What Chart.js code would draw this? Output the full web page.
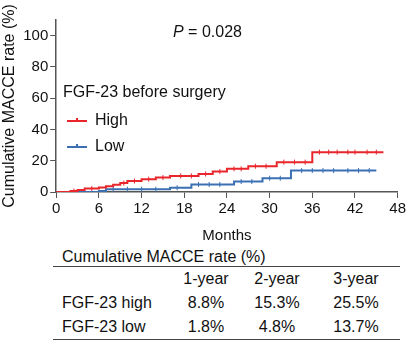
<!DOCTYPE html>
<html lang="en">
<head>
<meta charset="UTF-8">
<title>Cumulative MACCE rate</title>
<script src="https://cdn.jsdelivr.net/npm/chart.js"></script>
<style>
    body { margin: 0; background: #fff; font-family: "Liberation Sans", Arial, sans-serif; color: #111; }
    #wrap { position: relative; width: 408px; height: 340px; overflow: hidden; }
    #grafico { position: absolute; left: 0; top: 0; width: 408px; height: 245px; }
    #titulo-tabela { position: absolute; left: 62px; top: 247px; font-size: 16px; line-height: 20px; }
    #tabela { position: absolute; left: 53px; top: 266px; border-collapse: collapse; font-size: 16px; }
    #tabela { border-top: 1.5px solid #444; border-bottom: 1.5px solid #444; }
    #tabela td { height: 24px; padding: 0; line-height: 24px; text-align: center; }
    #tabela td.nome { text-align: left; padding-left: 9px; }
</style>
</head>
<body>
<div id="wrap">
    <div id="grafico"><canvas id="km"></canvas></div>
    <div id="titulo-tabela">Cumulative MACCE rate (%)</div>
    <table id="tabela">
        <colgroup>
            <col style="width:117px"><col style="width:72px"><col style="width:70px"><col style="width:88px">
        </colgroup>
        <tbody></tbody>
    </table>
</div>

<script>
// curvas de Kaplan-Meier (mes do evento, taxa acumulada apos o evento)
const highMonths = [0, 2, 3, 4, 6, 7, 8, 9, 10, 12, 14, 16, 20, 22, 24, 27, 31, 36, 46];
const highRates  = [0, 0.6, 1.2, 2.2, 2.9, 3.6, 4.6, 5.7, 7.0, 8.2, 9.2, 10.3, 11.5, 13.1, 14.8, 16.5, 19.1, 25.5, 25.5];
const lowMonths  = [0, 6, 7, 16, 19, 25, 29, 33, 45];
const lowRates   = [0, 0.6, 1.8, 2.7, 4.8, 6.7, 8.8, 13.7, 13.7];

// censuras (meses)
const highCensor = [2.5, 5, 9.5, 11, 13, 15, 17.5, 19, 21, 23, 25, 26, 28, 29.5, 32, 33.5, 35, 37, 38.3, 39.5, 41, 42, 43.7, 45];
const lowCensor  = [3, 8, 10, 12, 14, 17, 20, 21.5, 23, 26, 27.5, 30, 31.5, 34.5, 36, 37.5, 39, 41, 42.5, 44];

// tabela
const tableHeader = ['', '1-year', '2-year', '3-year'];
const tableRows = [
    ['FGF-23 high', '8.8%', '15.3%', '25.5%'],
    ['FGF-23 low', '1.8%', '4.8%', '13.7%']
];

const legendTitle = 'FGF-23 before surgery';
const legendLabels = ['High', 'Low'];
const pText = '= 0.028';

const RED = '#e8262b';
const BLUE = '#3b70b3';
const AXIS = '#555';
const FONT = '"Liberation Sans", Arial, sans-serif';

// preenche a tabela
let html = '<tr>' + tableHeader.map((h, i) => `<td${i === 0 ? ' class="nome"' : ''}>${h}</td>`).join('') + '</tr>';
tableRows.forEach(r => {
    html += '<tr>' + r.map((v, i) => `<td${i === 0 ? ' class="nome"' : ''}>${v}</td>`).join('') + '</tr>';
});
document.querySelector('#tabela tbody').innerHTML = html;

function stepValue(months, rates, t) {
    let v = 0;
    for (let i = 0; i < months.length; i++) {
        if (months[i] <= t) v = rates[i];
    }
    return v;
}

const highLine = highMonths.map((m, i) => ({ x: m, y: highRates[i] }));
const lowLine = lowMonths.map((m, i) => ({ x: m, y: lowRates[i] }));
const highTicks = highCensor.map(m => ({ x: m, y: stepValue(highMonths, highRates, m) }));
const lowTicks = lowCensor.map(m => ({ x: m, y: stepValue(lowMonths, lowRates, m) }));

// legenda e valor de P desenhados no grafico
const anotacoes = {
    id: 'anotacoes',
    afterDraw(chart) {
        const ctx = chart.ctx;
        ctx.save();
        ctx.fillStyle = '#111';
        ctx.textBaseline = 'middle';
        ctx.font = 'italic 16px ' + FONT;
        ctx.fillText('P', 173, 33);
        const pw = ctx.measureText('P ').width;
        ctx.font = '16px ' + FONT;
        ctx.fillText(pText, 173 + pw, 33);

        ctx.fillText(legendTitle, 63, 93);
        const cores = [RED, BLUE];
        legendLabels.forEach((lab, i) => {
            const y = 121 + i * 26;
            ctx.strokeStyle = cores[i];
            ctx.lineWidth = 2;
            ctx.beginPath();
            ctx.moveTo(67, y);
            ctx.lineTo(87, y);
            ctx.moveTo(77, y);
            ctx.lineTo(77, y - 3);
            ctx.stroke();
            ctx.fillStyle = '#111';
            ctx.fillText(lab, 95, y);
        });
        ctx.restore();
    }
};

const ctx = document.getElementById('km').getContext('2d');
new Chart(ctx, {
    type: 'line',
    data: {
        datasets: [
            { data: highLine, borderColor: RED, borderWidth: 2, stepped: 'before', pointRadius: 0, fill: false },
            { data: lowLine, borderColor: BLUE, borderWidth: 2, stepped: 'before', pointRadius: 0, fill: false },
            { data: highTicks, showLine: false, pointStyle: 'line', rotation: 90, pointRadius: 2.5,
              borderColor: RED, pointBorderColor: RED, pointBorderWidth: 1 },
            { data: lowTicks, showLine: false, pointStyle: 'line', rotation: 90, pointRadius: 2.5,
              borderColor: BLUE, pointBorderColor: BLUE, pointBorderWidth: 1 }
        ]
    },
    options: {
        responsive: true,
        maintainAspectRatio: false,
        animation: false,
        layout: { padding: { top: 20, right: 10, left: 0, bottom: 0 } },
        plugins: { legend: { display: false }, tooltip: { enabled: false } },
        scales: {
            x: {
                type: 'linear',
                min: 0, max: 48,
                ticks: { stepSize: 6, color: '#111', font: { size: 15, family: FONT }, padding: 2 },
                grid: { display: true, drawOnChartArea: false, drawTicks: true, tickLength: 6, color: AXIS },
                border: { display: true, color: AXIS, width: 1.5 },
                title: { display: true, text: 'Months', color: '#111', font: { size: 15, family: FONT }, padding: { top: 7, bottom: 0 } }
            },
            y: {
                min: 0, max: 110,
                ticks: { stepSize: 20, includeBounds: false, autoSkip: false, color: '#111', font: { size: 15, family: FONT }, padding: 2 },
                grid: { display: true, drawOnChartArea: false, drawTicks: true, tickLength: 6, color: AXIS },
                border: { display: true, color: AXIS, width: 1.5 },
                title: { display: true, text: 'Cumulative MACCE rate (%)', color: '#111', font: { size: 16, family: FONT }, padding: { top: 0, bottom: 2 } }
            }
        }
    },
    plugins: [anotacoes]
});
</script>
</body>
</html>
